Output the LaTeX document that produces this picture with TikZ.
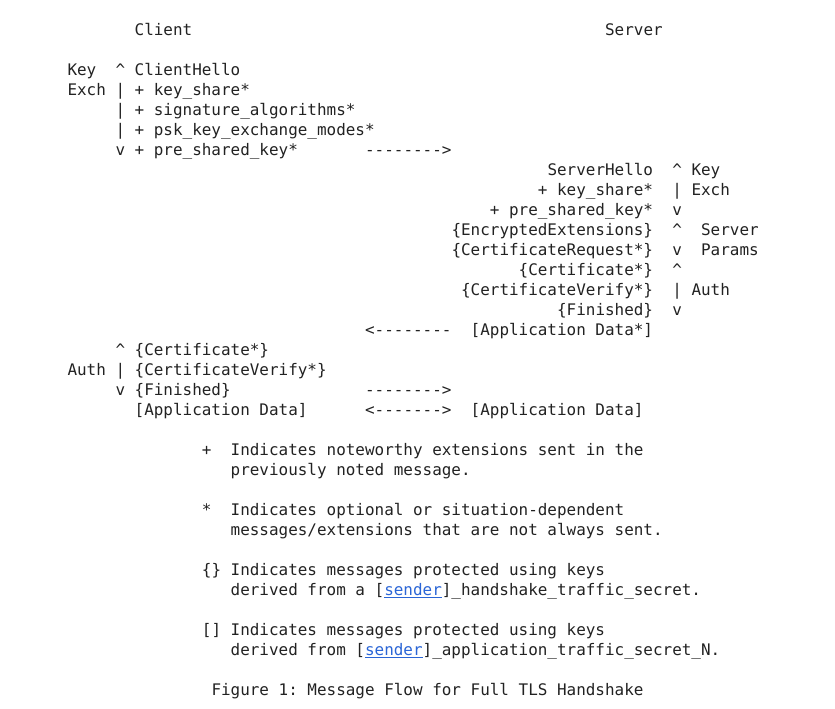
\documentclass[tikz,border=0pt]{standalone}
\usepackage{fontspec}
\setmonofont{DejaVu Sans Mono}
\definecolor{ink}{HTML}{222222}
\definecolor{link}{HTML}{2A65D6}
\newcommand{\cx}[1]{67.5+#1*9.6}
\newcommand{\ry}[1]{-(35.5+#1*20)}
\newcommand{\lnk}[1]{\textcolor{link}{\underline{#1}}}
\begin{document}
\begin{tikzpicture}[x=1pt,y=1pt,
  txt/.style={inner sep=0pt,outer sep=0pt,anchor=base west,text=ink,
    font=\ttfamily\fontsize{15.945}{20}\selectfont\frenchspacing}]
\useasboundingbox[fill=white] (0,0) rectangle (835,-709);
% header
\node[txt] (client) at ({\cx{7}},{\ry{0}}) {Client};
\node[txt] (server) at ({\cx{56}},{\ry{0}}) {Server};
% client key exchange
\node[txt] (ckey) at ({\cx{0}},{\ry{2}}) {Key};
\node[txt] (cka) at ({\cx{5}},{\ry{2}}) {\textasciicircum};
\node[txt] (ch) at ({\cx{7}},{\ry{2}}) {ClientHello};
\node[txt] (cexch) at ({\cx{0}},{\ry{3}}) {Exch};
\node[txt] (ckb) at ({\cx{5}},{\ry{3}}) {|};
\node[txt] (chks) at ({\cx{7}},{\ry{3}}) {+ key\_share*};
\node[txt] (ckc) at ({\cx{5}},{\ry{4}}) {|};
\node[txt] (chsa) at ({\cx{7}},{\ry{4}}) {+ signature\_algorithms*};
\node[txt] (ckd) at ({\cx{5}},{\ry{5}}) {|};
\node[txt] (chpsk) at ({\cx{7}},{\ry{5}}) {+ psk\_key\_exchange\_modes*};
\node[txt] (cke) at ({\cx{5}},{\ry{6}}) {v};
\node[txt] (chpre) at ({\cx{7}},{\ry{6}}) {+ pre\_shared\_key*};
\node[txt] (arr1) at ({\cx{31}},{\ry{6}}) {-------->};
% server side
\node[txt] (sh) at ({\cx{50}},{\ry{7}}) {ServerHello};
\node[txt] (ska) at ({\cx{63}},{\ry{7}}) {\textasciicircum};
\node[txt] (skey) at ({\cx{65}},{\ry{7}}) {Key};
\node[txt] (shks) at ({\cx{49}},{\ry{8}}) {+ key\_share*};
\node[txt] (skb) at ({\cx{63}},{\ry{8}}) {|};
\node[txt] (sexch) at ({\cx{65}},{\ry{8}}) {Exch};
\node[txt] (shpre) at ({\cx{44}},{\ry{9}}) {+ pre\_shared\_key*};
\node[txt] (skc) at ({\cx{63}},{\ry{9}}) {v};
\node[txt] (ee) at ({\cx{40}},{\ry{10}}) {\{EncryptedExtensions\}};
\node[txt] (spa) at ({\cx{63}},{\ry{10}}) {\textasciicircum};
\node[txt] (sserver) at ({\cx{66}},{\ry{10}}) {Server};
\node[txt] (cr) at ({\cx{40}},{\ry{11}}) {\{CertificateRequest*\}};
\node[txt] (spb) at ({\cx{63}},{\ry{11}}) {v};
\node[txt] (sparams) at ({\cx{66}},{\ry{11}}) {Params};
\node[txt] (scert) at ({\cx{47}},{\ry{12}}) {\{Certificate*\}};
\node[txt] (saa) at ({\cx{63}},{\ry{12}}) {\textasciicircum};
\node[txt] (scv) at ({\cx{41}},{\ry{13}}) {\{CertificateVerify*\}};
\node[txt] (sab) at ({\cx{63}},{\ry{13}}) {|};
\node[txt] (sauth) at ({\cx{65}},{\ry{13}}) {Auth};
\node[txt] (sfin) at ({\cx{51}},{\ry{14}}) {\{Finished\}};
\node[txt] (sac) at ({\cx{63}},{\ry{14}}) {v};
\node[txt] (arr2) at ({\cx{31}},{\ry{15}}) {<--------};
\node[txt] (sapp) at ({\cx{42}},{\ry{15}}) {[Application Data*]};
% client auth
\node[txt] (caa) at ({\cx{5}},{\ry{16}}) {\textasciicircum};
\node[txt] (ccert) at ({\cx{7}},{\ry{16}}) {\{Certificate*\}};
\node[txt] (cauth) at ({\cx{0}},{\ry{17}}) {Auth};
\node[txt] (cab) at ({\cx{5}},{\ry{17}}) {|};
\node[txt] (ccv) at ({\cx{7}},{\ry{17}}) {\{CertificateVerify*\}};
\node[txt] (cac) at ({\cx{5}},{\ry{18}}) {v};
\node[txt] (cfin) at ({\cx{7}},{\ry{18}}) {\{Finished\}};
\node[txt] (arr3) at ({\cx{31}},{\ry{18}}) {-------->};
\node[txt] (capp) at ({\cx{7}},{\ry{19}}) {[Application Data]};
\node[txt] (arr4) at ({\cx{31}},{\ry{19}}) {<------->};
\node[txt] (sapp2) at ({\cx{42}},{\ry{19}}) {[Application Data]};
% notes
\node[txt] (n1s) at ({\cx{14}},{\ry{21}}) {+};
\node[txt] (n1a) at ({\cx{17}},{\ry{21}}) {Indicates noteworthy extensions sent in the};
\node[txt] (n1b) at ({\cx{17}},{\ry{22}}) {previously noted message.};
\node[txt] (n2s) at ({\cx{14}},{\ry{24}}) {*};
\node[txt] (n2a) at ({\cx{17}},{\ry{24}}) {Indicates optional or situation-dependent};
\node[txt] (n2b) at ({\cx{17}},{\ry{25}}) {messages/extensions that are not always sent.};
\node[txt] (n3s) at ({\cx{14}},{\ry{27}}) {\{\}};
\node[txt] (n3a) at ({\cx{17}},{\ry{27}}) {Indicates messages protected using keys};
\node[txt] (n3b) at ({\cx{17}},{\ry{28}}) {derived from a [\lnk{sender}]\_handshake\_traffic\_secret.};
\node[txt] (n4s) at ({\cx{14}},{\ry{30}}) {[]};
\node[txt] (n4a) at ({\cx{17}},{\ry{30}}) {Indicates messages protected using keys};
\node[txt] (n4b) at ({\cx{17}},{\ry{31}}) {derived from [\lnk{sender}]\_application\_traffic\_secret\_N.};
% caption
\node[txt] (cap) at ({\cx{15}},{\ry{33}}) {Figure 1: Message Flow for Full TLS Handshake};
\end{tikzpicture}
\end{document}
